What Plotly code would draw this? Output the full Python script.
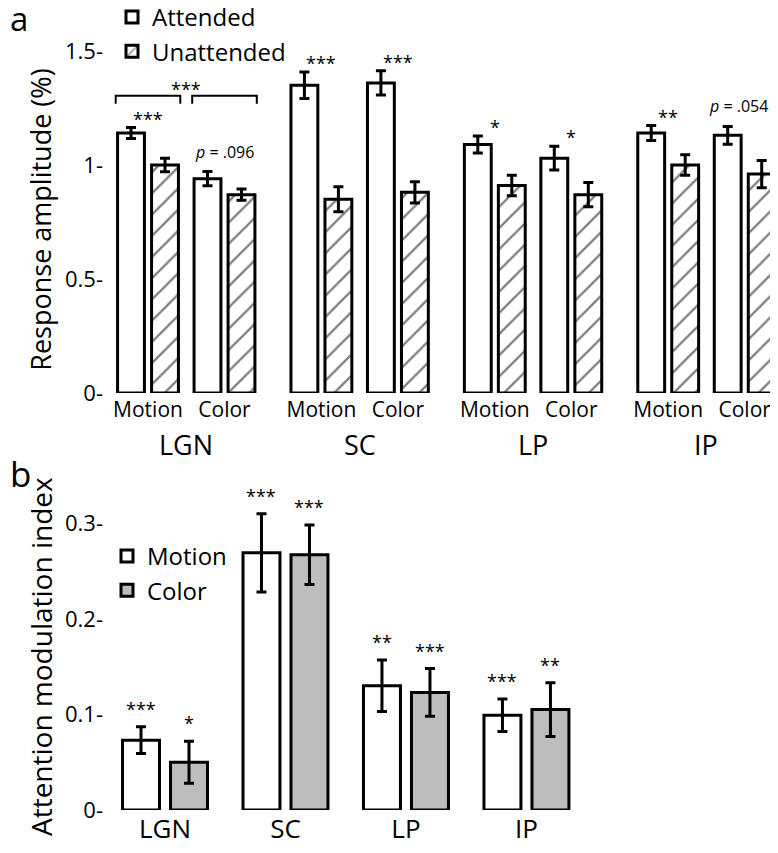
import plotly.graph_objects as go

# areas and features
areas = ["LGN", "SC", "LP", "IP"]
features = ["Motion", "Color"]

# panel a: response amplitude (%), order LGN-motion, LGN-color, SC-motion, ...
attended = [1.14, 0.94, 1.35, 1.36, 1.09, 1.03, 1.14, 1.13]
attended_err = [0.024, 0.031, 0.058, 0.053, 0.037, 0.052, 0.033, 0.039]
unattended = [1.00, 0.87, 0.85, 0.88, 0.91, 0.87, 1.00, 0.96]
unattended_err = [0.030, 0.025, 0.055, 0.047, 0.045, 0.053, 0.045, 0.060]
sig_a = ["***", "<i>p</i> = .096", "***", "***", "*", "*", "**", "<i>p</i> = .054"]

# panel b: attention modulation index
ami_motion = [0.073, 0.269, 0.130, 0.099]
ami_motion_err = [0.014, 0.041, 0.027, 0.017]
ami_color = [0.050, 0.267, 0.123, 0.105]
ami_color_err = [0.022, 0.031, 0.025, 0.028]
sig_motion = ["***", "***", "**", "***"]
sig_color = ["*", "***", "***", "**"]

# the page body has an 8px margin all round; keep the figure inside it
OFF = 8
W, H = 778 - 2 * OFF, 853 - 2 * OFF
FONT = "Open Sans"


def px(x):
    # window x pixel -> paper fraction
    return (x - OFF) / W


def py(y):
    # window y pixel -> paper fraction
    return (H - (y - OFF)) / H


# x positions (a): group step, feature step, attended/unattended step
xa_att = [g * 5.1 + c * 2.25 for g in range(4) for c in range(2)]
xa_un = [x + 1 for x in xa_att]
xa_tick = [x + 0.5 for x in xa_att]
# x positions (b)
xb_mot = [g * 2.51 for g in range(4)]
xb_col = [x + 1 for x in xb_mot]

fig = go.Figure()

errstyle = dict(type="data", color="black", thickness=3, width=5)

fig.add_trace(go.Bar(x=xa_att, y=attended, width=0.79, name="Attended",
                     marker=dict(color="white", line=dict(color="black", width=3)),
                     error_y=dict(array=attended_err, **errstyle),
                     xaxis="x", yaxis="y", legend="legend"))
fig.add_trace(go.Bar(x=xa_un, y=unattended, width=0.79, name="Unattended",
                     marker=dict(color="white", line=dict(color="black", width=3),
                                 pattern=dict(shape="/", size=15, solidity=0.15,
                                              fgcolor="black", bgcolor="white")),
                     error_y=dict(array=unattended_err, **errstyle),
                     xaxis="x", yaxis="y", legend="legend"))

fig.add_trace(go.Bar(x=xb_mot, y=ami_motion, width=0.77, name="Motion",
                     marker=dict(color="white", line=dict(color="black", width=3)),
                     error_y=dict(array=ami_motion_err, **errstyle),
                     xaxis="x2", yaxis="y2", legend="legend2"))
fig.add_trace(go.Bar(x=xb_col, y=ami_color, width=0.77, name="Color",
                     marker=dict(color="#bdbdbd", line=dict(color="black", width=3)),
                     error_y=dict(array=ami_color_err, **errstyle),
                     xaxis="x2", yaxis="y2", legend="legend2"))

ann = []
# significance, panel a
for i, s in enumerate(sig_a):
    top = attended[i] + attended_err[i]
    ital = s.startswith("<i>")
    last = i == len(sig_a) - 1
    ann.append(dict(x=xa_tick[i], y=top, xref="x", yref="y", text=s, showarrow=False,
                    yanchor="bottom", yshift=7 if ital else -5, xshift=-6 if last else 0,
                    font=dict(size=16 if ital else 18, family=FONT, color="black")))

# bracket comparing LGN motion vs colour
lgn_top = max(attended[0] + attended_err[0], attended[1] + attended_err[1])
by = lgn_top + 0.14
shapes = []
for i in (0, 1):
    x0, x1 = xa_att[i] - 0.45, xa_un[i] + 0.45
    shapes.append(dict(type="path", xref="x", yref="y",
                       path=f"M{x0},{by - 0.035} L{x0},{by} L{x1},{by} L{x1},{by - 0.035}",
                       line=dict(color="black", width=2)))
ann.append(dict(x=(xa_un[0] + xa_att[1]) / 2, y=by, xref="x", yref="y", text="***",
                showarrow=False, yanchor="bottom", yshift=-7,
                font=dict(size=18, family=FONT, color="black")))

# area labels under panel a
for g, a in enumerate(areas):
    ann.append(dict(x=(xa_tick[2 * g] + xa_tick[2 * g + 1]) / 2, y=0, xref="x", yref="y",
                    text=a, showarrow=False, yanchor="middle", yshift=-51,
                    font=dict(size=27, family=FONT, color="black")))

# significance, panel b
for g in range(4):
    for xs, v, e, s in ((xb_mot, ami_motion, ami_motion_err, sig_motion),
                        (xb_col, ami_color, ami_color_err, sig_color)):
        ann.append(dict(x=xs[g], y=v[g] + e[g], xref="x2", yref="y2", text=s[g],
                        showarrow=False, yanchor="bottom", yshift=4,
                        font=dict(size=18, family=FONT, color="black")))

# y titles and panel letters
ann.append(dict(x=px(41), y=0.76, xref="paper", yref="y", text="Response amplitude (%)",
                textangle=-90, showarrow=False, xanchor="center", yanchor="middle",
                font=dict(size=27, family=FONT, color="black")))
ann.append(dict(x=px(41), y=0.16, xref="paper", yref="y2", text="Attention modulation index",
                textangle=-90, showarrow=False, xanchor="center", yanchor="middle",
                font=dict(size=28, family=FONT, color="black")))
ann.append(dict(x=0, y=py(19), xref="paper", yref="paper", text="a", showarrow=False,
                xanchor="left", yanchor="middle",
                font=dict(size=33, family=FONT, color="black")))
ann.append(dict(x=0, y=py(473), xref="paper", yref="paper", text="b", showarrow=False,
                xanchor="left", yanchor="middle",
                font=dict(size=35, family=FONT, color="black")))

left, right = 104, 778 - OFF  # window pixels where the plot areas start / end
axstyle = dict(showgrid=False, zeroline=False, showline=False, ticks="", automargin=False)
fig.update_layout(
    width=W, height=H,
    margin=dict(l=0, r=0, t=0, b=0, autoexpand=False),
    paper_bgcolor="white", plot_bgcolor="white",
    barmode="overlay",
    font=dict(family=FONT, color="black"),
    xaxis=dict(domain=[px(left), 1], range=[(left - 131) / 34, (right - 131) / 34], anchor="y",
               tickvals=xa_tick, ticktext=features * 4, tickfont=dict(size=21),
               ticklabelstandoff=2, ticklabeloverflow="allow", **axstyle),
    yaxis=dict(domain=[py(393), 1], range=[0, (393 - OFF) / 228], anchor="x",
               tickvals=[0, 0.5, 1, 1.5], ticktext=["0-", "0.5-", "1-", "1.5-"],
               tickfont=dict(size=22), **axstyle),
    xaxis2=dict(domain=[px(left), 1], range=[(left - 141) / 48, (right - 141) / 48], anchor="y2",
                tickvals=[x + 0.5 for x in xb_mot], ticktext=areas, tickfont=dict(size=26),
                ticklabelstandoff=1, **axstyle),
    yaxis2=dict(domain=[py(810), py(470)], range=[0, (810 - 470) / 956], anchor="x2",
                tickvals=[0, 0.1, 0.2, 0.3], ticktext=["0-", "0.1-", "0.2-", "0.3-"],
                tickfont=dict(size=22), **axstyle),
    legend=dict(x=px(112), y=py(-5), xanchor="left", yanchor="top", font=dict(size=24),
                bgcolor="rgba(0,0,0,0)", traceorder="normal"),
    legend2=dict(x=px(107), y=py(534), xanchor="left", yanchor="top", font=dict(size=24),
                 bgcolor="rgba(0,0,0,0)", traceorder="normal"),
    annotations=ann,
    shapes=shapes,
)

fig.write_html("out.html")
